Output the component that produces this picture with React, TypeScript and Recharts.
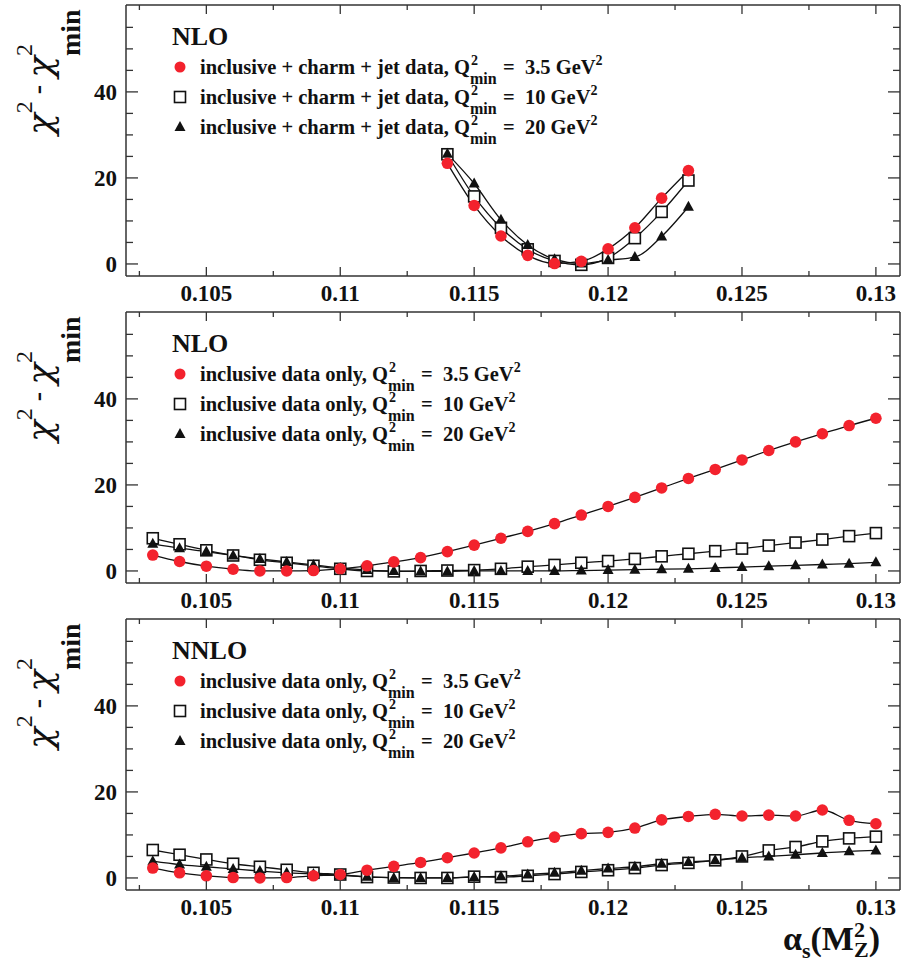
import React from 'react';
import { LineChart, Line, XAxis, YAxis, Legend } from 'recharts';

const RED = '#f3222d';
const INK = '#111111';
const FRAME = '#333333';
const FONT = "'Liberation Serif', 'Times New Roman', serif";
const GREEK = "'DejaVu Serif', 'Liberation Serif', serif";

// axes
const xTicks = [0.1025, 0.105, 0.1075, 0.11, 0.1125, 0.115, 0.1175, 0.12, 0.1225, 0.125, 0.1275, 0.13];
const yTicks = [0, 5, 10, 15, 20, 25, 30, 35, 40, 45, 50, 55];
const yLabelled = [0, 20, 40];
const X_DOMAIN: [number, number] = [0.102, 0.1309];
const Y_DOMAIN: [number, number] = [-2.8, 60.2];

// top panel: NLO, inclusive + charm + jet data
const topAlpha = [0.114, 0.115, 0.116, 0.117, 0.118, 0.119, 0.12, 0.121, 0.122, 0.123];
const topCircle = [23.4, 13.6, 6.5, 2.0, 0.1, 0.6, 3.5, 8.4, 15.3, 21.7];
const topSquare = [25.5, 15.7, 8.4, 3.4, 0.7, -0.2, 1.4, 6.0, 12.1, 19.4];
const topTriangle = [25.6, 18.7, 10.3, 4.4, 1.1, 0.1, 0.9, 1.6, 6.4, 13.3];

// middle + bottom panels: inclusive data only
const incAlpha = [
  0.103, 0.104, 0.105, 0.106, 0.107, 0.108, 0.109, 0.11, 0.111, 0.112, 0.113, 0.114, 0.115, 0.116,
  0.117, 0.118, 0.119, 0.12, 0.121, 0.122, 0.123, 0.124, 0.125, 0.126, 0.127, 0.128, 0.129, 0.13,
];
const midCircle = [3.7, 2.2, 1.1, 0.4, 0.0, 0.0, 0.1, 0.5, 1.2, 2.1, 3.1, 4.5, 6.0, 7.6, 9.2, 11.0, 13.0, 15.0, 17.1, 19.3, 21.5, 23.6, 25.8, 28.0, 30.0, 31.9, 33.8, 35.5];
const midSquare = [7.6, 6.2, 4.8, 3.6, 2.6, 1.9, 1.2, 0.5, 0.0, -0.1, 0.0, 0.1, 0.2, 0.5, 1.0, 1.4, 1.9, 2.3, 2.8, 3.4, 4.0, 4.6, 5.2, 5.9, 6.6, 7.3, 8.1, 8.8];
const midTriangle = [6.3, 5.3, 4.5, 3.6, 2.8, 2.1, 1.4, 0.7, 0.2, 0.0, -0.1, -0.1, 0.0, 0.0, 0.0, 0.0, 0.1, 0.2, 0.3, 0.4, 0.5, 0.7, 0.9, 1.1, 1.3, 1.5, 1.7, 2.0];
const botCircle = [2.3, 1.2, 0.5, 0.1, 0.0, 0.1, 0.5, 0.8, 1.8, 2.7, 3.6, 4.7, 5.8, 7.0, 8.4, 9.5, 10.3, 10.6, 11.6, 13.5, 14.3, 14.8, 14.4, 14.6, 14.4, 15.8, 13.4, 12.6];
const botSquare = [6.5, 5.4, 4.3, 3.3, 2.6, 1.9, 1.2, 0.8, 0.2, 0.1, 0.0, 0.0, 0.3, 0.2, 0.5, 0.9, 1.4, 1.8, 2.3, 3.0, 3.5, 4.1, 5.0, 6.4, 7.2, 8.5, 9.2, 9.6];
const botTriangle = [3.9, 3.1, 2.6, 2.1, 1.6, 1.2, 0.9, 0.6, 0.3, 0.0, 0.0, 0.0, 0.2, 0.4, 0.8, 1.2, 1.7, 2.2, 2.6, 3.3, 3.7, 4.1, 4.7, 5.0, 5.4, 5.8, 6.2, 6.4];

// legends
const q2Values = ['3.5', '10', '20'];
const topEntries = ['inclusive + charm + jet data', 'inclusive + charm + jet data', 'inclusive + charm + jet data'];
const incEntries = ['inclusive data only', 'inclusive data only', 'inclusive data only'];

const W = 901;
const PLOT_H = 271;

type Row = { x: number; a: number; b: number; c: number };
const rows = (xs: number[], a: number[], b: number[], c: number[]): Row[] =>
  xs.map((x, i) => ({ x, a: a[i], b: b[i], c: c[i] }));

const topData = rows(topAlpha, topCircle, topSquare, topTriangle);
const midData = rows(incAlpha, midCircle, midSquare, midTriangle);
const botData = rows(incAlpha, botCircle, botSquare, botTriangle);

const isMajorX = (v: number) => Math.round(v * 10000) % 50 === 0;

const BottomTick = (p: any) => {
  const v = p.payload.value;
  const major = isMajorX(v);
  return (
    <g>
      <line x1={p.x} x2={p.x} y1={p.y} y2={p.y - (major ? 9 : 5)} stroke={FRAME} strokeWidth={1.3} />
      {major && (
        <text x={p.x} y={p.y + 25} textAnchor="middle" fontFamily={FONT} fontWeight="bold" fontSize={23} fill={INK}>
          {String(Math.round(v * 10000) / 10000)}
        </text>
      )}
    </g>
  );
};

const TopTick = (p: any) => {
  const major = isMajorX(p.payload.value);
  return <line x1={p.x} x2={p.x} y1={p.y} y2={p.y + (major ? 9 : 5)} stroke={FRAME} strokeWidth={1.3} />;
};

const LeftTick = (p: any) => {
  const v = p.payload.value;
  const major = yLabelled.includes(v);
  return (
    <g>
      <line x1={p.x} x2={p.x + (major ? 12 : 7)} y1={p.y} y2={p.y} stroke={FRAME} strokeWidth={1.3} />
      {major && (
        <text x={p.x - 9} y={p.y + 8} textAnchor="end" fontFamily={FONT} fontWeight="bold" fontSize={23} fill={INK}>
          {v}
        </text>
      )}
    </g>
  );
};

const RightTick = (p: any) => {
  const major = yLabelled.includes(p.payload.value);
  return <line x1={p.x} x2={p.x - (major ? 12 : 7)} y1={p.y} y2={p.y} stroke={FRAME} strokeWidth={1.3} />;
};

const YTitle = () => (
  <text transform="rotate(-90)" x={-135} y={52} fontFamily={FONT} fontSize={36} fill={INK}>
    <tspan fontFamily={GREEK} fontStyle="italic">χ</tspan>
    <tspan fontSize={24} dy={-20}>2</tspan>
    <tspan fontSize={28} fontWeight="bold" dy={14}>{' - '}</tspan>
    <tspan fontFamily={GREEK} fontStyle="italic" dy={6}>χ</tspan>
    <tspan fontSize={24} dy={-20}>2</tspan>
    <tspan fontSize={28} fontWeight="bold" dx={-12} dy={48}>min</tspan>
  </text>
);

const AlphaTitle = () => (
  <text x={783} y={336} fontFamily={FONT} fontWeight="bold" fontSize={34} fill={INK}>
    <tspan>α</tspan>
    <tspan fontSize={22} dy={8}>s</tspan>
    <tspan dy={-8}>(M</tspan>
    <tspan fontSize={22} dy={-13}>2</tspan>
    <tspan fontSize={22} dx={-11} dy={20}>Z</tspan>
    <tspan dy={-7}>)</tspan>
  </text>
);

const circleDot = (p: any) => <circle key={`a${p.index}`} cx={p.cx} cy={p.cy} r={5.8} fill={RED} />;
const squareDot = (p: any) => (
  <rect key={`b${p.index}`} x={p.cx - 5.5} y={p.cy - 5.5} width={11} height={11} fill="#fff" stroke={INK} strokeWidth={1.6} />
);
const triangleDot = (p: any) => (
  <path key={`c${p.index}`} d={`M${p.cx},${p.cy - 6}L${p.cx + 5.5},${p.cy + 4}L${p.cx - 5.5},${p.cy + 4}Z`} fill={INK} />
);

const markers = [
  <circle cx={10} cy={12} r={5.5} fill={RED} />,
  <rect x={4.5} y={6.5} width={11} height={11} fill="#fff" stroke={INK} strokeWidth={1.6} />,
  <path d="M10,6L15.5,16L4.5,16Z" fill={INK} />,
];

const LegendBox = ({ head, entries }: { head: string; entries: string[] }) => (
  <div style={{ position: 'relative', width: 600, height: 150, fontFamily: FONT, fontWeight: 'bold', color: INK }}>
    <div style={{ position: 'absolute', left: 172, top: 21, fontSize: 26, lineHeight: '32px' }}>{head}</div>
    {entries.map((label, i) => (
      <div key={i} style={{ position: 'absolute', left: 0, top: 55 + i * 30, height: 24, width: 600 }}>
        <svg width={20} height={24} style={{ position: 'absolute', left: 170, top: 0 }}>
          {markers[i]}
        </svg>
        <div style={{ position: 'absolute', left: 200, top: 0, fontSize: 20.5, lineHeight: '24px', whiteSpace: 'pre' }}>
          {label}, Q
          <span style={{ display: 'inline-block', position: 'relative', width: 28, height: 0 }}>
            <span style={{ position: 'absolute', left: 1, top: -20, fontSize: 14, lineHeight: '14px' }}>2</span>
            <span style={{ position: 'absolute', left: 0, top: -3, fontSize: 16, lineHeight: '16px' }}>min</span>
          </span>
          {` =  ${q2Values[i]} GeV`}
          <span style={{ fontSize: 14, position: 'relative', top: -9 }}>2</span>
        </div>
      </div>
    ))}
  </div>
);

const frameLine = { stroke: FRAME, strokeWidth: 1.5 };

const Panel = ({ top, height, data, head, entries, last }: {
  top: number; height: number; data: Row[]; head: string; entries: string[]; last?: boolean;
}) => (
  <div style={{ position: 'absolute', top, left: 0 }}>
    <LineChart width={W} height={height} data={data} margin={{ top: 4, right: 0, bottom: 0, left: 0 }}>
      <XAxis
        xAxisId="b"
        type="number"
        dataKey="x"
        domain={X_DOMAIN}
        ticks={xTicks}
        interval={0}
        allowDataOverflow
        height={height - 5 - PLOT_H}
        tickSize={0}
        tickMargin={0}
        tickLine={false}
        axisLine={frameLine}
        tick={BottomTick}
        label={last ? () => <AlphaTitle /> : undefined}
      />
      <XAxis
        xAxisId="t"
        orientation="top"
        type="number"
        dataKey="x"
        domain={X_DOMAIN}
        ticks={xTicks}
        interval={0}
        allowDataOverflow
        height={1}
        tickSize={0}
        tickMargin={0}
        tickLine={false}
        axisLine={frameLine}
        tick={TopTick}
      />
      <YAxis
        yAxisId="l"
        type="number"
        domain={Y_DOMAIN}
        ticks={yTicks}
        interval={0}
        allowDataOverflow
        width={126}
        tickSize={0}
        tickMargin={0}
        tickLine={false}
        axisLine={frameLine}
        tick={LeftTick}
        label={() => <YTitle />}
      />
      <YAxis
        yAxisId="r"
        orientation="right"
        type="number"
        domain={Y_DOMAIN}
        ticks={yTicks}
        interval={0}
        allowDataOverflow
        width={1}
        tickSize={0}
        tickMargin={0}
        tickLine={false}
        axisLine={frameLine}
        tick={RightTick}
      />
      <Legend
        verticalAlign="middle"
        content={() => <LegendBox head={head} entries={entries} />}
        wrapperStyle={{ top: 0, left: 0, width: 600, height: 150 }}
      />
      <Line xAxisId="b" yAxisId="l" type="monotone" dataKey="b" stroke={INK} strokeWidth={1.3} dot={squareDot} activeDot={false} isAnimationActive={false} />
      <Line xAxisId="b" yAxisId="l" type="monotone" dataKey="c" stroke={INK} strokeWidth={1.3} dot={triangleDot} activeDot={false} isAnimationActive={false} />
      <Line xAxisId="b" yAxisId="l" type="monotone" dataKey="a" stroke={INK} strokeWidth={1.3} dot={circleDot} activeDot={false} isAnimationActive={false} />
    </LineChart>
  </div>
);

export default function App() {
  return (
    <div style={{ position: 'absolute', top: 0, left: 0, width: W, height: 977, background: '#fff' }}>
      <Panel top={0} height={312} data={topData} head="NLO" entries={topEntries} />
      <Panel top={307} height={312} data={midData} head="NLO" entries={incEntries} />
      <Panel top={614} height={363} data={botData} head="NNLO" entries={incEntries} last />
    </div>
  );
}
